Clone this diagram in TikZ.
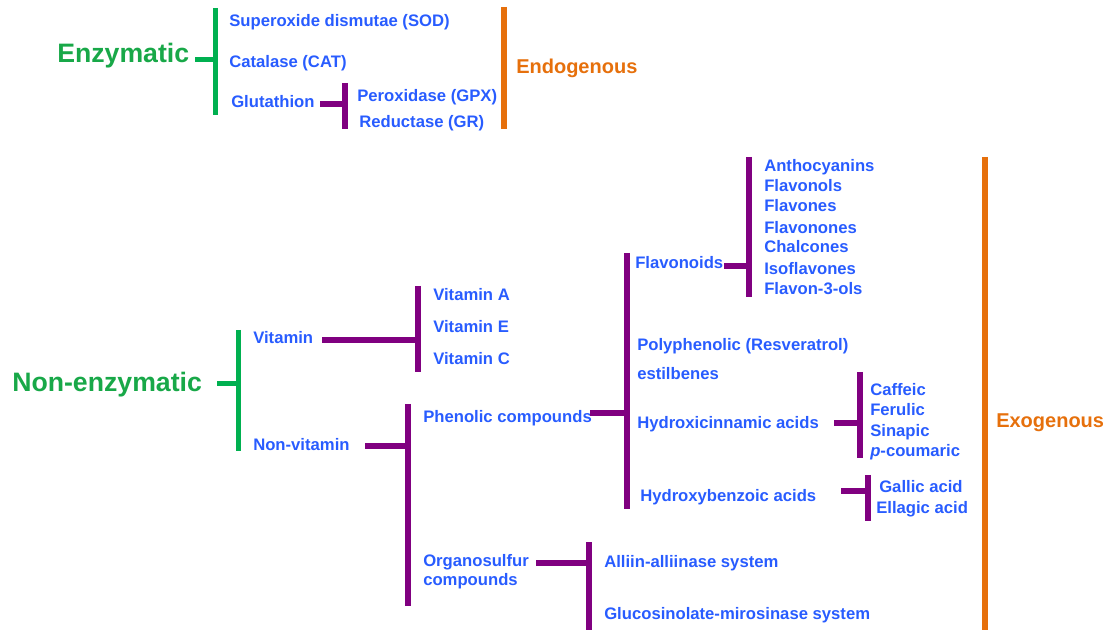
\documentclass[tikz,border=0pt]{standalone}
\usepackage{fontspec}
\setmainfont{Liberation Sans}
\definecolor{tblue}{RGB}{40,92,255}
\definecolor{tgreen}{RGB}{24,168,72}
\definecolor{bgreen}{RGB}{0,176,80}
\definecolor{bpurple}{RGB}{128,0,128}
\definecolor{borange}{RGB}{230,112,12}
\tikzset{
  txt/.style={anchor=base west,inner sep=0pt,text=tblue,font=\fontsize{12.5}{14.25}\selectfont\bfseries},
  gtxt/.style={anchor=base west,inner sep=0pt,text=tgreen,font=\fontsize{20}{24}\selectfont\bfseries},
  otxt/.style={anchor=base west,inner sep=0pt,text=borange,font=\fontsize{15}{18}\selectfont\bfseries},
  gbar/.style={draw=bgreen,line width=3.75pt},
  pbar/.style={draw=bpurple,line width=4.5pt},
  obar/.style={draw=borange,line width=4.5pt}
}
\begin{document}
\begin{tikzpicture}[x=0.75pt,y=-0.75pt]
\useasboundingbox (0,0) rectangle (1110,630);
% ---------- Endogenous ----------
\node[gtxt] (enz) at (57,63) {Enzymatic};
\node[txt] (sod) at (229,27) {Superoxide dismutae (SOD)};
\node[txt] (cat) at (229,68) {Catalase (CAT)};
\node[txt] (glu) at (231,108) {Glutathion};
\node[txt] (gpx) at (357,102) {Peroxidase (GPX)};
\node[txt] (gr) at (359,128) {Reductase (GR)};
\node[otxt] (endo) at (516,74) {Endogenous};
\coordinate (e1t) at (215,8); \coordinate (e1b) at (215,115);
\coordinate (e1s) at (195,60);
\draw[gbar] (e1t) -- (e1b);
\draw[gbar] (e1s) -- (e1s -| e1t);
\coordinate (g1t) at (345,83); \coordinate (g1b) at (345,129);
\coordinate (g1s) at (320,104);
\draw[pbar] (g1t) -- (g1b);
\draw[pbar] (g1s) -- (g1s -| g1t);
\coordinate (o1t) at (504,7); \coordinate (o1b) at (504,129);
\draw[obar] (o1t) -- (o1b);
% ---------- Exogenous ----------
\node[gtxt] (nenz) at (12,392) {Non-enzymatic};
\node[txt] (vit) at (253,344) {Vitamin};
\node[txt] (nvit) at (253,451) {Non-vitamin};
\node[txt] (va) at (433,301) {Vitamin A};
\node[txt] (ve) at (433,333) {Vitamin E};
\node[txt] (vc) at (433,365) {Vitamin C};
\node[txt] (phen) at (423,423) {Phenolic compounds};
\node[txt,anchor=west,align=left] (org) at (423,572) {Organosulfur\\compounds};
\node[txt] (flav) at (635,269) {Flavonoids};
\node[txt] (f1) at (764,172) {Anthocyanins};
\node[txt] (f2) at (764,192) {Flavonols};
\node[txt] (f3) at (764,212) {Flavones};
\node[txt] (f4) at (764,234) {Flavonones};
\node[txt] (f5) at (764,253) {Chalcones};
\node[txt] (f6) at (764,275) {Isoflavones};
\node[txt] (f7) at (764,295) {Flavon-3-ols};
\node[txt] (poly) at (637,351) {Polyphenolic (Resveratrol)};
\node[txt] (esti) at (637,380) {estilbenes};
\node[txt] (hca) at (637,429) {Hydroxicinnamic acids};
\node[txt] (c1) at (870,396) {Caffeic};
\node[txt] (c2) at (870,416) {Ferulic};
\node[txt] (c3) at (870,437) {Sinapic};
\node[txt] (c4) at (870,457) {\textit{p}-coumaric};
\node[txt] (hba) at (640,502) {Hydroxybenzoic acids};
\node[txt] (b1) at (879,493) {Gallic acid};
\node[txt] (b2) at (876,513) {Ellagic acid};
\node[txt] (all) at (604,567) {Alliin-alliinase system};
\node[txt] (glc) at (604,619) {Glucosinolate-mirosinase system};
\node[otxt] (exo) at (996,428) {Exogenous};
% brackets
\coordinate (n1t) at (238,330); \coordinate (n1b) at (238,451); \coordinate (n1s) at (217,384);
\draw[gbar] (n1t) -- (n1b); \draw[gbar] (n1s) -- (n1s -| n1t);
\coordinate (v1t) at (418,286); \coordinate (v1b) at (418,372); \coordinate (v1s) at (322,340);
\draw[pbar] (v1t) -- (v1b); \draw[pbar] (v1s) -- (v1s -| v1t);
\coordinate (nv1t) at (408,404); \coordinate (nv1b) at (408,606); \coordinate (nv1s) at (365,446);
\draw[pbar] (nv1t) -- (nv1b); \draw[pbar] (nv1s) -- (nv1s -| nv1t);
\coordinate (p1t) at (627,253); \coordinate (p1b) at (627,509); \coordinate (p1s) at (590,413);
\draw[pbar] (p1t) -- (p1b); \draw[pbar] (p1s) -- (p1s -| p1t);
\coordinate (fl1t) at (749,157); \coordinate (fl1b) at (749,297); \coordinate (fl1s) at (724,266);
\draw[pbar] (fl1t) -- (fl1b); \draw[pbar] (fl1s) -- (fl1s -| fl1t);
\coordinate (h1t) at (860,372); \coordinate (h1b) at (860,458); \coordinate (h1s) at (834,423);
\draw[pbar] (h1t) -- (h1b); \draw[pbar] (h1s) -- (h1s -| h1t);
\coordinate (hb1t) at (868,475); \coordinate (hb1b) at (868,521); \coordinate (hb1s) at (841,491);
\draw[pbar] (hb1t) -- (hb1b); \draw[pbar] (hb1s) -- (hb1s -| hb1t);
\coordinate (os1t) at (589,542); \coordinate (os1b) at (589,630); \coordinate (os1s) at (536,563);
\draw[pbar] (os1t) -- (os1b); \draw[pbar] (os1s) -- (os1s -| os1t);
\coordinate (o2t) at (985,157); \coordinate (o2b) at (985,630);
\draw[obar] (o2t) -- (o2b);
\end{tikzpicture}
\end{document}
